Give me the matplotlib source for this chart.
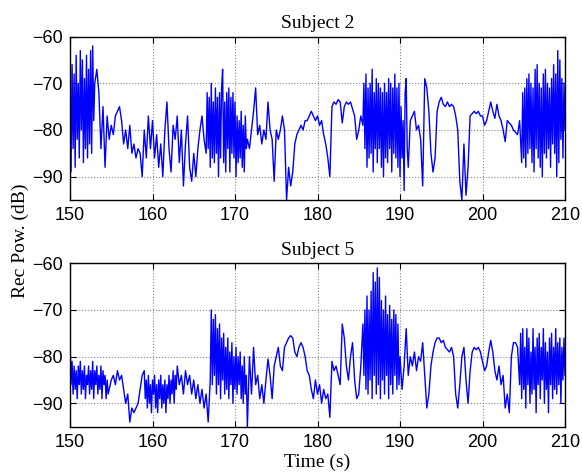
import numpy as np
import matplotlib
matplotlib.use("Agg")
import matplotlib.pyplot as plt

t_start = 150.0
t_step = 0.25          # coarse sampling of the base traces
burst_step = 0.125     # finer sampling of the fast-fading stretches

subject2 = [
    -72, -86, -66, -84, -70, -88, -63, -80, -67, -86, -62, -71, -70, -67, -72, -84, -75, -88, -77, -82,
    -79, -81, -77, -76, -75, -78, -83, -80, -84, -79, -85, -83, -86, -84, -85, -90, -80, -86, -77, -84,
    -78, -86, -81, -88, -83, -90, -80, -74, -84, -89, -79, -82, -77, -87, -80, -92, -83, -77, -88, -91,
    -85, -90, -84, -80, -77, -82, -85, -72, -88, -70, -86, -73, -90, -71, -67, -87, -72, -89, -71, -85,
    -74, -90, -77, -86, -76, -89, -82, -84, -80, -76, -71, -81, -79, -83, -80, -82, -74, -80, -82, -91,
    -80, -82, -80, -77, -80, -95, -88, -92, -89, -83, -81, -80, -79, -80, -78, -78, -77, -76, -77, -78,
    -77, -79, -78, -81, -83, -86, -90, -75, -74, -74.5, -73.5, -74, -78.5, -75, -74, -74.5, -74, -75.5, -77, -82,
    -80, -77, -79, -68, -88, -70, -86, -67, -89, -69, -84, -71, -90, -72, -87, -70, -89, -68, -86, -71,
    -90, -75, -93, -69, -88, -78, -77, -76, -80, -79, -82, -92, -69, -71, -76, -85, -89, -86, -76, -74,
    -73, -74.5, -75, -74, -75, -74.5, -75, -77, -80, -91, -95, -83, -94, -88, -77, -76.5, -76, -76.5, -76, -77,
    -77, -79, -78, -76, -74, -76, -77.5, -74.5, -77, -78, -80, -82.5, -78, -78.5, -79, -80, -80.5, -81, -78, -87,
    -71, -88, -68, -85, -70, -89, -66, -84, -71, -90, -67, -86, -70, -88, -66, -85, -63, -90, -65, -82, -70,
]

subject2_burst_starts = [150.0, 166.5, 185.5, 204.75]
subject2_bursts = [
    [-74, -89, -66, -84, -68, -88, -64, -82, -70, -86, -63, -80, -65, -87, -69, -84, -64, -86, -67, -83,
     -63, -85, -62, -78, -70],
    [-85, -72, -84, -73, -88, -70, -86, -74, -87, -71, -85, -73, -90, -72, -86, -71, -67, -87, -74, -89,
     -72, -84, -71, -89, -73, -85, -72, -86, -74, -90, -77, -87, -78, -86, -76, -88, -79, -89, -77, -84, -82],
    [-79, -70, -84, -68, -88, -71, -86, -70, -85, -67, -89, -72, -84, -69, -87, -70, -84, -71, -88, -72,
     -90, -70, -86, -72, -87, -69, -84, -70, -89, -71, -85, -68, -86, -71, -88, -70, -90, -75, -86, -78,
     -93, -72, -69, -84, -88],
    [-87, -72, -86, -71, -88, -69, -85, -68, -84, -70, -87, -71, -89, -67, -84, -66, -86, -70, -88, -71,
     -90, -68, -85, -67, -86, -70, -84, -71, -88, -69, -83, -66, -85, -68, -90, -63, -87, -65, -82, -69,
     -86, -70, -80],
]

subject5 = [
    -76, -84, -88, -82, -87, -83, -89, -81, -86, -82, -88, -84, -87, -83, -89, -82, -86, -84, -89, -87,
    -85, -84, -86, -83, -85, -84, -87, -90, -88, -94, -91, -92, -91, -90, -87, -84, -83, -88, -85, -90,
    -86, -91, -84, -89, -86, -92, -85, -90, -87, -91, -85, -88, -82, -86, -84, -88, -83, -86, -84, -88,
    -85, -89, -86, -90, -87, -91, -88, -94, -85, -70, -82, -71, -86, -74, -88, -76, -87, -75, -89, -78,
    -86, -79, -88, -78, -90, -84, -95, -80, -88, -78, -86, -84, -89, -86, -90, -85, -80.5, -84, -89, -82,
    -80, -78, -82, -83, -78, -77, -76, -75.5, -76, -79, -80, -78, -77, -78, -80, -83, -84, -87, -89, -85,
    -88, -86, -90, -87, -89, -88, -93, -81, -83, -82, -84, -86, -73, -76, -82, -85, -80, -77, -85, -89,
    -88, -82, -73, -80, -67, -88, -70, -87, -62, -84, -61, -89, -68, -85, -71, -88, -69, -84, -71, -86,
    -80, -87, -82, -74, -84, -80, -82, -79, -83, -80, -81, -77, -84, -91, -88, -82, -79, -77, -76, -76,
    -77, -76.5, -78, -78.5, -79, -78, -80, -88, -91, -86, -80, -78, -85, -90, -83, -79, -78, -78.5, -78, -79,
    -81, -83, -82, -79, -76.5, -79, -83, -85, -82, -86, -84, -91, -88, -92, -80, -77, -77, -78, -86, -75,
    -89, -74, -87, -79, -91, -74, -86, -78, -90, -75, -85, -80, -92, -76, -87, -75, -89, -78, -86, -76, -84,
]

subject5_burst_starts = [150.0, 159.0, 167.0, 185.5, 204.5]
subject5_bursts = [
    [-76, -86, -81, -88, -82, -87, -83, -89, -82, -86, -81, -88, -83, -87, -82, -89, -84, -86, -82, -88,
     -83, -87, -81, -89, -83, -86, -82, -88, -84, -87, -82, -89, -83, -86, -84, -89, -85, -88, -87],
    [-83, -89, -85, -91, -84, -90, -86, -92, -85, -88, -84, -91, -86, -92, -85, -89, -84, -91, -86, -90,
     -85, -92, -86, -89, -84, -90, -85, -88, -83, -90, -84, -87, -82],
    [-85, -70, -86, -72, -84, -71, -88, -74, -86, -73, -89, -76, -85, -75, -88, -78, -87, -76, -89, -79,
     -86, -77, -90, -80, -87, -78, -88, -80, -86, -79, -89, -82, -90, -80, -88, -84, -95],
    [-73, -84, -70, -87, -67, -88, -70, -85, -66, -89, -62, -84, -64, -88, -61, -86, -63, -89, -68, -85,
     -70, -88, -67, -84, -71, -89, -69, -86, -72, -88, -70, -84, -71, -87, -73, -86, -80],
    [-86, -75, -89, -74, -87, -78, -91, -74, -86, -76, -90, -79, -88, -74, -87, -78, -92, -76, -86, -75,
     -89, -78, -85, -74, -90, -77, -87, -79, -92, -76, -86, -75, -89, -78, -87, -74, -88, -77, -86, -76,
     -90, -78, -85, -76, -84],
]

titles = ["Subject 2", "Subject 5"]
x_ticks = [150, 160, 170, 180, 190, 200, 210]
y_ticks = [-90, -80, -70, -60]

serif = ["Liberation Serif", "DejaVu Serif"]
sans = ["Liberation Sans", "DejaVu Sans"]


def assemble(base, starts, bursts):
    base = np.asarray(base, dtype=float)
    t_base = t_start + t_step * np.arange(len(base))
    keep = np.ones(len(base), dtype=bool)
    ts, vs = [], []
    for s, vals in zip(starts, bursts):
        tb = s + burst_step * np.arange(len(vals))
        keep &= ~((t_base >= tb[0] - 1e-9) & (t_base <= tb[-1] + 1e-9))
        ts.append(tb)
        vs.append(np.asarray(vals, dtype=float))
    ts.append(t_base[keep])
    vs.append(base[keep])
    t = np.concatenate(ts)
    v = np.concatenate(vs)
    order = np.argsort(t, kind="stable")
    return t[order], v[order]


fig = plt.figure(figsize=(5.82, 4.72), dpi=100)
W, H = 582, 472


def make_axes(top_px, bottom_px):
    left = 70 / W
    right = 565 / W
    return fig.add_axes([left, 1 - bottom_px / H, right - left, (bottom_px - top_px) / H])


axes = [make_axes(36.6, 200), make_axes(263.3, 426.7)]
series = [assemble(subject2, subject2_burst_starts, subject2_bursts),
          assemble(subject5, subject5_burst_starts, subject5_bursts)]

for ax, (t, y), title in zip(axes, series, titles):
    ax.plot(t, y, color="#0000ff", lw=1.0)
    ax.set_xlim(150, 210)
    ax.set_ylim(-95, -60)
    ax.set_xticks(x_ticks)
    ax.set_yticks(y_ticks)
    ax.grid(True, linestyle=":", color="#888888", lw=0.8)
    ax.tick_params(direction="in", top=True, right=True, length=4, width=0.8,
                   labelsize=13, pad=5)
    for lab in ax.get_xticklabels() + ax.get_yticklabels():
        lab.set_family(sans)
    for s in ax.spines.values():
        s.set_linewidth(1.0)
    ax.set_title(title, fontsize=14, family=serif, pad=6)

axes[1].set_xlabel("Time (s)", fontsize=14, family=serif, labelpad=2)
fig.text(0.035, 0.49, "Rec Pow. (dB)", rotation=90, fontsize=14, family=serif,
         ha="center", va="center")

fig.savefig("out.png", dpi=100)
